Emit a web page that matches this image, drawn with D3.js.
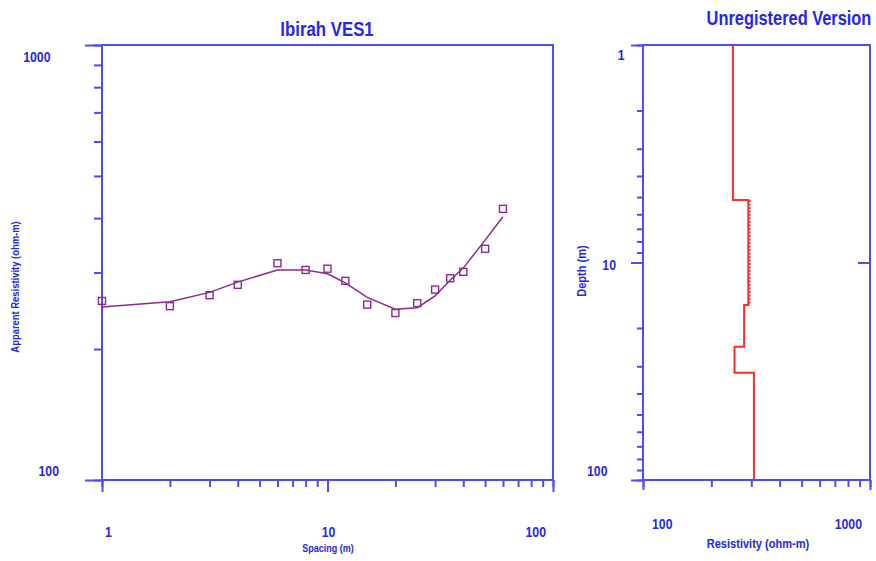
<!DOCTYPE html>
<html>
<head>
<meta charset="utf-8">
<script src="https://cdn.jsdelivr.net/npm/d3@7"></script>
<style>
  body { margin: 0; background: #fff; }
  svg text { font-family: "Liberation Sans", Arial, sans-serif; font-weight: bold; fill: #2626ee; }
</style>
</head>
<body>
<svg id="chart" width="876" height="561"></svg>
<script>
// sounding data
const spacing = [1, 2, 3, 4, 6, 8, 10, 12, 15, 20, 25, 30, 35, 40, 50, 60];
const observed = [258, 251, 266, 281, 315, 304, 306, 287, 253, 242, 255, 274, 291, 301, 340, 420];
const calculated = [250, 257, 270, 285, 304, 304, 298, 284, 263, 247, 249, 265, 288, 307, 356, 403];

// layered model
const layerRes = [249, 291, 279, 253, 308];
const layerBottom = [5.16, 15.7, 24.4, 32.1, 100];

const spacingTicks = [1, 10, 100];
const appResTicks = [100, 1000];
const resTicks = [100, 1000];
const depthTicks = [1, 10, 100];

const axisColor = "#4b4bff";
const svg = d3.select("#chart");

// narrow bold text (liberation sans squeezed like arial narrow)
function label(g, x, y, txt, size, anchor, rot) {
  return g.append("text")
    .attr("transform", `translate(${x},${y})` + (rot ? ` rotate(${rot})` : "") + " scale(0.82,1)")
    .attr("text-anchor", anchor || "middle")
    .style("font-size", size + "px")
    .text(txt);
}

function box(g, sx, sy) {
  g.append("rect")
    .attr("x", sx.range()[0]).attr("y", Math.min(sy.range()[0], sy.range()[1]))
    .attr("width", sx.range()[1] - sx.range()[0])
    .attr("height", Math.abs(sy.range()[1] - sy.range()[0]))
    .attr("fill", "none").attr("stroke", axisColor).attr("stroke-width", 2);
}

function styleAxis(g) {
  g.select(".domain").remove();
  g.selectAll("line").attr("stroke", axisColor).attr("stroke-width", 2);
  g.selectAll("text").remove();
}

// ---------- left panel : sounding curve ----------
const x = d3.scaleLog().domain([1, 100]).range([102, 553]);
const y = d3.scaleLog().domain([100, 1000]).range([480, 45]);

const left = svg.append("g");
box(left, x, y);

left.append("g").attr("transform", "translate(0,480)")
  .call(d3.axisBottom(x).tickValues(x.ticks()).tickSize(7).tickFormat(""))
  .call(styleAxis);
left.append("g").attr("transform", "translate(0,480)")
  .call(d3.axisBottom(x).tickValues(spacingTicks).tickSize(12).tickFormat(""))
  .call(styleAxis);
left.append("g").attr("transform", "translate(102,0)")
  .call(d3.axisLeft(y).tickValues(y.ticks()).tickSize(8).tickFormat(""))
  .call(styleAxis);
left.append("g").attr("transform", "translate(102,0)")
  .call(d3.axisLeft(y).tickValues(appResTicks).tickSize(17).tickFormat(""))
  .call(styleAxis);

// tick labels
spacingTicks.forEach((d, i) => {
  const last = i === spacingTicks.length - 1;
  label(left, x(d) + (i === 0 ? 3 : last ? -7 : 1), 537, d, 15,
        i === 0 ? "start" : last ? "end" : "middle");
});
appResTicks.forEach((d, i) => {
  label(left, 102 - 17.5 - 8.5 * String(d).length, y(d) + (i === 0 ? -4 : 17), d, 15, "end");
});

label(svg, 327, 36, "Ibirah VES1", 20.5);
label(svg, 328, 552, "Spacing (m)", 11);
label(svg, 19, 287, "Apparent Resistivity (ohm-m)", 11.5, "middle", -90);

// calculated curve
left.append("path")
  .datum(spacing.map((s, i) => [s, calculated[i]]))
  .attr("fill", "none").attr("stroke", "#8e2a8e").attr("stroke-width", 1.5)
  .attr("d", d3.line().x(d => x(d[0])).y(d => y(d[1])));

// observed points
left.selectAll(".pt").data(spacing.map((s, i) => [s, observed[i]])).enter().append("rect")
  .attr("x", d => x(d[0]) - 3.5).attr("y", d => y(d[1]) - 3.5)
  .attr("width", 7).attr("height", 7)
  .attr("fill", "none").attr("stroke", "#8e2a8e").attr("stroke-width", 1.4);

// ---------- right panel : layered model ----------
const rx = d3.scaleLog().domain([100, 1000]).range([643, 870]);
const ry = d3.scaleLog().domain([1, 100]).range([45, 480]);

const right = svg.append("g");
box(right, rx, ry);

right.append("g").attr("transform", "translate(0,480)")
  .call(d3.axisBottom(rx).tickValues(rx.ticks()).tickSize(7).tickFormat(""))
  .call(styleAxis);
right.append("g").attr("transform", "translate(0,480)")
  .call(d3.axisBottom(rx).tickValues(resTicks).tickSize(10).tickFormat(""))
  .call(styleAxis);
right.append("g").attr("transform", "translate(643,0)")
  .call(d3.axisLeft(ry).tickValues(ry.ticks()).tickSize(6).tickFormat(""))
  .call(styleAxis);
right.append("g").attr("transform", "translate(643,0)")
  .call(d3.axisLeft(ry).tickValues(depthTicks).tickSize(12).tickFormat(""))
  .call(styleAxis);
// inward tick on the right border at depth 10
right.append("g").attr("transform", "translate(870,0)")
  .call(d3.axisRight(ry).tickValues([10]).tickSize(-12).tickFormat(""))
  .call(styleAxis);

resTicks.forEach((d, i) => {
  label(right, i === 0 ? rx(d) + 9 : rx(d) - 8, 529, d, 15, i === 0 ? "start" : "end");
});
depthTicks.forEach((d, i) => {
  const last = i === depthTicks.length - 1;
  label(right, 643 - 10 - 8.5 * String(d).length, ry(d) + (i === 0 ? 15 : last ? -4 : 7), d, 15, "end");
});

label(svg, 789, 25, "Unregistered Version", 20);
label(svg, 758, 548, "Resistivity (ohm-m)", 13.5);
label(svg, 586, 271, "Depth (m)", 13.5, "middle", -90);

// step line of the model
const steps = [];
layerRes.forEach((r, i) => {
  const top = i === 0 ? 1 : layerBottom[i - 1];
  steps.push([r, top], [r, layerBottom[i]]);
});
right.append("path")
  .datum(steps)
  .attr("fill", "none").attr("stroke", "#ff2a2a").attr("stroke-width", 2)
  .attr("d", d3.line().x(d => rx(d[0])).y(d => ry(d[1])));
// thin equivalent layers drawn dashed beside layer 2
right.append("line")
  .attr("x1", rx(layerRes[1]) + 1.5).attr("x2", rx(layerRes[1]) + 1.5)
  .attr("y1", ry(layerBottom[0])).attr("y2", ry(layerBottom[1]))
  .attr("stroke", "#ff2a2a").attr("stroke-width", 1.5).attr("stroke-dasharray", "2,1.5");
</script>
</body>
</html>
